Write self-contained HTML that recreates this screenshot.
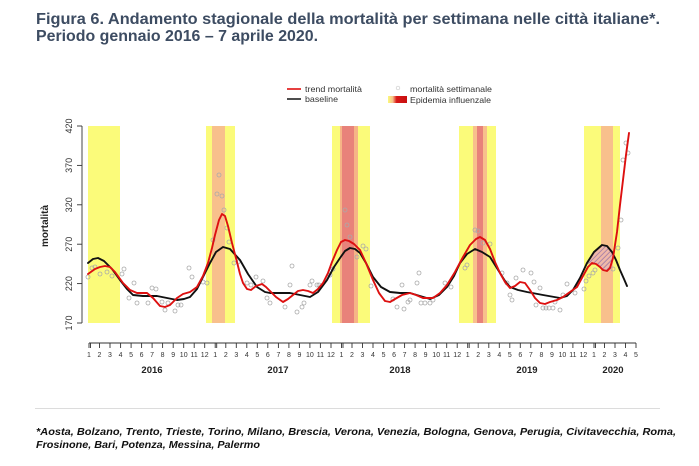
<!DOCTYPE html>
<html>
<head>
<meta charset="utf-8">
<style>
  html,body{margin:0;padding:0;background:#fff;}
  svg{display:block;}
  text{font-family:"Liberation Sans",Arial,sans-serif;}
</style>
</head>
<body>
<svg width="699" height="466" viewBox="0 0 699 466" xmlns="http://www.w3.org/2000/svg">
  <defs>
    <pattern id="hatch" patternUnits="userSpaceOnUse" width="3.5" height="3.5" patternTransform="rotate(45)">
      <rect width="3.5" height="3.5" fill="#f0b8a8"/>
      <line x1="0" y1="0" x2="0" y2="3.5" stroke="#8a6aa8" stroke-width="1.3"/>
    </pattern>
    <linearGradient id="lg" x1="0" x2="1" y1="0" y2="0">
      <stop offset="0" stop-color="#fbfb7a"/>
      <stop offset="0.25" stop-color="#f8c08c"/>
      <stop offset="0.45" stop-color="#d81818"/>
      <stop offset="1" stop-color="#c81010"/>
    </linearGradient>
  </defs>
  <rect width="699" height="466" fill="#fff"/>

  <!-- Title -->
  <text x="36" y="24" font-size="16" font-weight="bold" fill="#3d4c62" textLength="624" lengthAdjust="spacingAndGlyphs">Figura 6. Andamento stagionale della mortalità per settimana nelle città italiane*.</text>
  <text x="36" y="41" font-size="16" font-weight="bold" fill="#3d4c62" textLength="282" lengthAdjust="spacingAndGlyphs">Periodo gennaio 2016 – 7 aprile 2020.</text>

  <!-- Legend -->
  <line x1="287" y1="89" x2="301" y2="89" stroke="#e01010" stroke-width="1.6"/>
  <text x="305" y="92" font-size="8.5" fill="#333" textLength="57" lengthAdjust="spacingAndGlyphs">trend mortalità</text>
  <line x1="287" y1="99" x2="301" y2="99" stroke="#222" stroke-width="1.6"/>
  <text x="305" y="102" font-size="8.5" fill="#333" textLength="33" lengthAdjust="spacingAndGlyphs">baseline</text>
  <circle cx="398" cy="88" r="1.8" fill="none" stroke="#ccc" stroke-width="0.7"/>
  <text x="410" y="92" font-size="8.5" fill="#333" textLength="82" lengthAdjust="spacingAndGlyphs">mortalità settimanale</text>
  <rect x="388" y="96" width="19" height="7" fill="url(#lg)"/>
  <text x="410" y="103" font-size="8.5" fill="#333" textLength="81" lengthAdjust="spacingAndGlyphs">Epidemia influenzale</text>

  <!-- Bands -->
  <g>
    <rect x="88" y="126" width="32" height="197" fill="#fbfb7a"/>
    <rect x="206" y="126" width="29" height="197" fill="#fbfb7a"/>
    <rect x="212" y="126" width="13" height="197" fill="#f8c08c"/>
    <rect x="332" y="126" width="38" height="197" fill="#fbfb7a"/>
    <rect x="340" y="126" width="18" height="197" fill="#f6b486"/>
    <rect x="342" y="126" width="12" height="197" fill="#e8827a"/>
    <rect x="459" y="126" width="37" height="197" fill="#fbfb7a"/>
    <rect x="473" y="126" width="14" height="197" fill="#f8c08c"/>
    <rect x="477" y="126" width="6" height="197" fill="#e8827a"/>
    <rect x="584" y="126" width="36" height="197" fill="#fbfb7a"/>
    <rect x="601" y="126" width="12" height="197" fill="#f8c08c"/>
  </g>

  <!-- Hatch area -->
  <polygon fill="url(#hatch)" points="587,264 594,252 602,245 607,246 612,252 613,257 610,268 607,271 603,270 600,267 596,264 592,263"/>

  <!-- Y axis -->
  <g stroke="#333" stroke-width="0.9" fill="none">
    <line x1="82" y1="126" x2="82" y2="323"/>
    <line x1="77" y1="126" x2="82" y2="126"/>
    <line x1="77" y1="165.4" x2="82" y2="165.4"/>
    <line x1="77" y1="204.8" x2="82" y2="204.8"/>
    <line x1="77" y1="244.2" x2="82" y2="244.2"/>
    <line x1="77" y1="283.6" x2="82" y2="283.6"/>
    <line x1="77" y1="323" x2="82" y2="323"/>
  </g>
  <g font-size="9" fill="#333" text-anchor="middle">
    <text transform="translate(72,126) rotate(-90)">420</text>
    <text transform="translate(72,165.4) rotate(-90)">370</text>
    <text transform="translate(72,204.8) rotate(-90)">320</text>
    <text transform="translate(72,244.2) rotate(-90)">270</text>
    <text transform="translate(72,283.6) rotate(-90)">220</text>
    <text transform="translate(72,323) rotate(-90)">170</text>
  </g>
  <text transform="translate(48,226) rotate(-90)" font-size="10" font-weight="bold" fill="#222" text-anchor="middle" textLength="42" lengthAdjust="spacingAndGlyphs">mortalità</text>

  <!-- Scatter -->
  <g fill="none" stroke="#aaa" stroke-width="0.8">
    <circle cx="88" cy="277" r="2"/><circle cx="92" cy="268" r="2"/><circle cx="95" cy="267" r="2"/><circle cx="100" cy="274" r="2"/><circle cx="107" cy="272" r="2"/><circle cx="112" cy="276" r="2"/><circle cx="122" cy="274" r="2"/><circle cx="124" cy="269" r="2"/><circle cx="129" cy="298" r="2"/><circle cx="134" cy="283" r="2"/><circle cx="137" cy="303" r="2"/><circle cx="148" cy="303" r="2"/><circle cx="152" cy="288" r="2"/><circle cx="156" cy="289" r="2"/><circle cx="162" cy="302" r="2"/><circle cx="165" cy="310" r="2"/><circle cx="168" cy="303" r="2"/><circle cx="175" cy="311" r="2"/><circle cx="178" cy="305" r="2"/><circle cx="181" cy="305" r="2"/><circle cx="189" cy="268" r="2"/><circle cx="192" cy="277" r="2"/><circle cx="203" cy="282" r="2"/><circle cx="207" cy="283" r="2"/><circle cx="213" cy="240" r="2"/><circle cx="217" cy="194" r="2"/><circle cx="219" cy="175" r="2"/><circle cx="222" cy="196" r="2"/><circle cx="224" cy="210" r="2"/><circle cx="227" cy="228" r="2"/><circle cx="229" cy="242" r="2"/><circle cx="234" cy="263" r="2"/><circle cx="238" cy="262" r="2"/><circle cx="247" cy="283" r="2"/><circle cx="251" cy="285" r="2"/><circle cx="256" cy="277" r="2"/><circle cx="263" cy="281" r="2"/><circle cx="267" cy="298" r="2"/><circle cx="270" cy="303" r="2"/><circle cx="285" cy="307" r="2"/><circle cx="290" cy="285" r="2"/><circle cx="292" cy="266" r="2"/><circle cx="297" cy="312" r="2"/><circle cx="302" cy="307" r="2"/><circle cx="304" cy="303" r="2"/><circle cx="310" cy="285" r="2"/><circle cx="312" cy="281" r="2"/><circle cx="317" cy="285" r="2"/><circle cx="319" cy="285" r="2"/><circle cx="330" cy="275" r="2"/><circle cx="333" cy="269" r="2"/><circle cx="345" cy="210" r="2"/><circle cx="347" cy="225" r="2"/><circle cx="350" cy="237" r="2"/><circle cx="357" cy="257" r="2"/><circle cx="363" cy="246" r="2"/><circle cx="366" cy="249" r="2"/><circle cx="371" cy="286" r="2"/><circle cx="393" cy="299" r="2"/><circle cx="397" cy="307" r="2"/><circle cx="402" cy="285" r="2"/><circle cx="404" cy="309" r="2"/><circle cx="408" cy="302" r="2"/><circle cx="410" cy="300" r="2"/><circle cx="417" cy="283" r="2"/><circle cx="419" cy="273" r="2"/><circle cx="421" cy="303" r="2"/><circle cx="425" cy="303" r="2"/><circle cx="430" cy="303" r="2"/><circle cx="433" cy="300" r="2"/><circle cx="445" cy="283" r="2"/><circle cx="451" cy="287" r="2"/><circle cx="465" cy="268" r="2"/><circle cx="467" cy="265" r="2"/><circle cx="475" cy="230" r="2"/><circle cx="478" cy="231" r="2"/><circle cx="483" cy="243" r="2"/><circle cx="490" cy="244" r="2"/><circle cx="502" cy="273" r="2"/><circle cx="507" cy="283" r="2"/><circle cx="510" cy="295" r="2"/><circle cx="512" cy="300" r="2"/><circle cx="516" cy="278" r="2"/><circle cx="523" cy="270" r="2"/><circle cx="531" cy="273" r="2"/><circle cx="534" cy="282" r="2"/><circle cx="540" cy="288" r="2"/><circle cx="536" cy="305" r="2"/><circle cx="543" cy="308" r="2"/><circle cx="546" cy="308" r="2"/><circle cx="549" cy="308" r="2"/><circle cx="553" cy="308" r="2"/><circle cx="555" cy="302" r="2"/><circle cx="560" cy="310" r="2"/><circle cx="563" cy="295" r="2"/><circle cx="567" cy="284" r="2"/><circle cx="575" cy="293" r="2"/><circle cx="584" cy="289" r="2"/><circle cx="586" cy="281" r="2"/><circle cx="589" cy="276" r="2"/><circle cx="593" cy="273" r="2"/><circle cx="595" cy="270" r="2"/><circle cx="613" cy="269" r="2"/><circle cx="618" cy="248" r="2"/><circle cx="621" cy="220" r="2"/><circle cx="623" cy="160" r="2"/><circle cx="626" cy="143" r="2"/><circle cx="628" cy="153" r="2"/>
  </g>

  <!-- Baseline (black) -->
  <polyline fill="none" stroke="#111" stroke-width="1.9" stroke-linejoin="round" stroke-linecap="round"
    points="88,263 93,259 98,258 104,261 112,269 120,280 127,289 133,295 143,296 157,296 167,298 177,300 184,299 190,297 197,289 203,277 210,263 216,252 223,247 230,249 240,260 248,274 257,287 265,292 270,293 290,293 300,295 310,297 318,292 327,280 334,267 340,258 345,251 350,248 355,249 360,253 366,263 373,277 381,287 390,292 400,293 410,293 420,296 430,299 439,295 447,287 454,276 460,263 467,254 475,249 482,252 490,257 495,265 500,273 505,281 510,287 518,290 527,292 543,295 560,298 567,296 573,290 580,278 587,263 594,252 602,245 607,246 612,252 616,260 620,270 624,279 627,286"/>

  <!-- Trend (red) -->
  <polyline fill="none" stroke="#dd1010" stroke-width="1.9" stroke-linejoin="round" stroke-linecap="round"
    points="88,274 95,269 100,267 105,266 110,267 115,272 123,283 130,290 137,293 147,293 153,298 160,306 165,307 170,305 177,298 183,294 190,292 197,287 203,276 208,263 212,248 215,235 219,220 222,214 225,216 228,226 232,243 237,262 240,274 243,283 247,289 251,290 256,286 262,284 266,287 270,291 276,297 283,302 288,299 293,295 298,291 303,290 308,291 313,293 318,289 323,283 328,273 332,262 337,250 341,242 345,240 349,241 354,244 360,250 366,263 373,280 379,293 385,301 390,302 395,299 402,295 410,293 416,295 423,298 433,298 440,293 447,285 455,272 463,257 470,245 476,239 480,237 485,240 490,249 495,262 500,273 505,282 510,288 515,286 520,282 525,283 530,290 535,298 540,303 545,304 550,302 557,300 563,297 570,292 577,287 583,276 588,267 592,263 596,264 600,267 603,270 607,271 610,268 613,258 617,232 620,205 623,180 626,155 629,133"/>

  <!-- X axis -->
  <g stroke="#333" stroke-width="0.9" fill="none">
    <line x1="89" y1="343" x2="636" y2="343"/>
    <path d="M89,343v5 M99.5,343v5 M110,343v5 M120.6,343v5 M131.1,343v5 M141.6,343v5 M152.1,343v5 M162.6,343v5 M173.2,343v5 M183.7,343v5 M194.2,343v5 M204.7,343v5 M215.2,343v5 M225.8,343v5 M236.3,343v5 M246.8,343v5 M257.3,343v5 M267.8,343v5 M278.4,343v5 M288.9,343v5 M299.4,343v5 M309.9,343v5 M320.4,343v5 M331,343v5 M341.5,343v5 M352,343v5 M362.5,343v5 M373,343v5 M383.6,343v5 M394.1,343v5 M404.6,343v5 M415.1,343v5 M425.6,343v5 M436.2,343v5 M446.7,343v5 M457.2,343v5 M467.7,343v5 M478.2,343v5 M488.8,343v5 M499.3,343v5 M509.8,343v5 M520.3,343v5 M530.8,343v5 M541.4,343v5 M551.9,343v5 M562.4,343v5 M572.9,343v5 M583.4,343v5 M594,343v5 M604.5,343v5 M615,343v5 M625.5,343v5 M636,343v5"/>
    <path d="M90.5,343v5 M216.7,343v5 M343,343v5 M469.2,343v5 M595.5,343v5"/>
  </g>
  <g font-size="7" fill="#333" text-anchor="middle">
    <text x="89" y="357">1</text><text x="99.5" y="357">2</text><text x="110" y="357">3</text><text x="120.6" y="357">4</text><text x="131.1" y="357">5</text><text x="141.6" y="357">6</text><text x="152.1" y="357">7</text><text x="162.6" y="357">8</text><text x="173.2" y="357">9</text><text x="183.7" y="357">10</text><text x="194.2" y="357">11</text><text x="204.7" y="357">12</text>
    <text x="215.2" y="357">1</text><text x="225.8" y="357">2</text><text x="236.3" y="357">3</text><text x="246.8" y="357">4</text><text x="257.3" y="357">5</text><text x="267.8" y="357">6</text><text x="278.4" y="357">7</text><text x="288.9" y="357">8</text><text x="299.4" y="357">9</text><text x="309.9" y="357">10</text><text x="320.4" y="357">11</text><text x="331" y="357">12</text>
    <text x="341.5" y="357">1</text><text x="352" y="357">2</text><text x="362.5" y="357">3</text><text x="373" y="357">4</text><text x="383.6" y="357">5</text><text x="394.1" y="357">6</text><text x="404.6" y="357">7</text><text x="415.1" y="357">8</text><text x="425.6" y="357">9</text><text x="436.2" y="357">10</text><text x="446.7" y="357">11</text><text x="457.2" y="357">12</text>
    <text x="467.7" y="357">1</text><text x="478.2" y="357">2</text><text x="488.8" y="357">3</text><text x="499.3" y="357">4</text><text x="509.8" y="357">5</text><text x="520.3" y="357">6</text><text x="530.8" y="357">7</text><text x="541.4" y="357">8</text><text x="551.9" y="357">9</text><text x="562.4" y="357">10</text><text x="572.9" y="357">11</text><text x="583.4" y="357">12</text>
    <text x="594" y="357">1</text><text x="604.5" y="357">2</text><text x="615" y="357">3</text><text x="625.5" y="357">4</text><text x="636" y="357">5</text>
  </g>
  <g font-size="9.5" font-weight="bold" fill="#222" text-anchor="middle">
    <text x="152" y="373">2016</text>
    <text x="278" y="373">2017</text>
    <text x="400" y="373">2018</text>
    <text x="527" y="373">2019</text>
    <text x="613" y="373">2020</text>
  </g>

  <!-- Separator -->
  <line x1="35" y1="408.5" x2="660" y2="408.5" stroke="#dcdcdc" stroke-width="1"/>

  <!-- Footnote -->
  <text x="36" y="435" font-size="10.5" font-weight="bold" font-style="italic" fill="#111" textLength="640" lengthAdjust="spacingAndGlyphs">*Aosta, Bolzano, Trento, Trieste, Torino, Milano, Brescia, Verona, Venezia, Bologna, Genova, Perugia, Civitavecchia, Roma,</text>
  <text x="36" y="448" font-size="10.5" font-weight="bold" font-style="italic" fill="#111" textLength="224" lengthAdjust="spacingAndGlyphs">Frosinone, Bari, Potenza, Messina, Palermo</text>
</svg>
</body>
</html>
